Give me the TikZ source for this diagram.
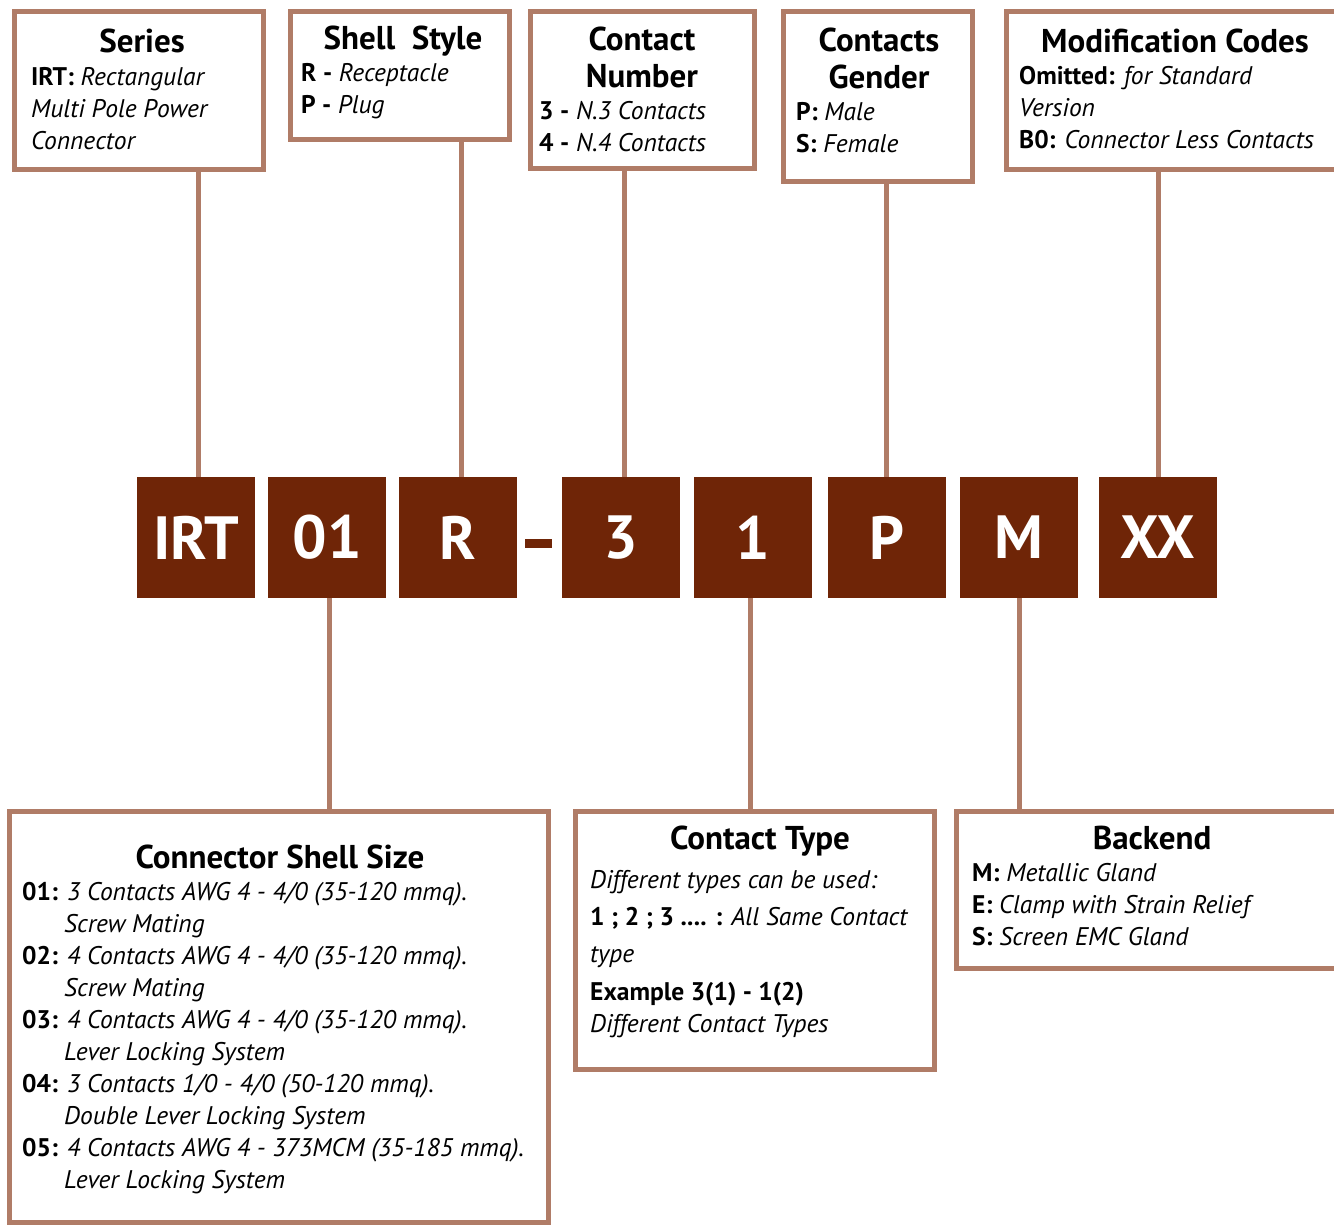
\documentclass[tikz,border=0pt]{standalone}
\usepackage{fontspec}
\setmainfont{PT Sans}
\definecolor{framecol}{RGB}{176,124,103}
\definecolor{codecol}{RGB}{111,37,7}
\begin{document}
\begin{tikzpicture}[x=1pt,y=-1pt,
 frame/.style={draw=framecol, line width=5.5pt, fill=white, inner sep=0pt, outer sep=0pt},
 codebox/.style={fill=codecol, text=white, font=\bfseries\fontsize{61}{61}\selectfont, minimum width=118pt, minimum height=121pt, inner sep=0pt, outer sep=0pt},
 conn/.style={draw=framecol, line width=5pt},
 ttl/.style={font=\bfseries\fontsize{33}{33}\selectfont, anchor=base, inner sep=0pt},
 txt/.style={font=\fontsize{25.5}{25.5}\selectfont, anchor=base west, inner sep=0pt},
]
\useasboundingbox (0,0) rectangle (1334,1226);
% code boxes
\node[codebox] (irt) at (196,537.5) {IRT};
\node[codebox] (c01) at (327,537.5) {01};
\node[codebox] (cr) at (458,537.5) {R};
\node[fill=codecol, minimum width=27pt, minimum height=9.5pt, inner sep=0pt] (dash) at (538.5,543.7) {};
\node[codebox] (c3) at (621,537.5) {3};
\node[codebox] (c1) at (753,537.5) {1};
\node[codebox] (cp) at (887,537.5) {P};
\node[codebox] (cm) at (1019,537.5) {M};
\node[codebox] (cxx) at (1158,537.5) {XX};
% top frames
\node[frame, minimum width=249pt, minimum height=158pt] (series) at (139,90.5) {};
\node[frame, minimum width=219pt, minimum height=128pt] (shell) at (400,75.5) {};
\node[frame, minimum width=224pt, minimum height=157pt] (cnum) at (642.5,90) {};
\node[frame, minimum width=189pt, minimum height=170pt] (gender) at (878,96.5) {};
\node[frame, minimum width=340pt, minimum height=158pt] (mod) at (1176.5,90.5) {};
% bottom frames
\node[frame, minimum width=539pt, minimum height=411pt] (size) at (279,1017) {};
\node[frame, minimum width=359pt, minimum height=258pt] (ctype) at (755,940.5) {};
\node[frame, minimum width=390pt, minimum height=157pt] (backend) at (1151.5,890) {};
% connectors
\draw[conn] ([xshift=2pt]irt.north) -- ([xshift=2pt]irt.north |- series.south);
\draw[conn] ([xshift=3pt]cr.north) -- ([xshift=3pt]cr.north |- shell.south);
\draw[conn] ([xshift=3pt]c3.north) -- ([xshift=3pt]c3.north |- cnum.south);
\draw[conn] ([xshift=-1pt]cp.north) -- ([xshift=-1pt]cp.north |- gender.south);
\draw[conn] (cxx.north) -- (cxx.north |- mod.south);
\draw[conn] ([xshift=2pt]c01.south) -- ([xshift=2pt]c01.south |- size.north);
\draw[conn] ([xshift=-3pt]c1.south) -- ([xshift=-3pt]c1.south |- ctype.north);
\draw[conn] (cm.south) -- (cm.south |- backend.north);
% texts: Series
\node[ttl] (t1) at (142,52) {Series};
\node[txt] (t1a) at (31,85) {\textbf{IRT:} \textit{Rectangular}};
\node[txt] (t1b) at (31,117) {\textit{Multi Pole Power}};
\node[txt] (t1c) at (31,149) {\textit{Connector}};
% Shell style
\node[ttl] (t2) at (403,49) {Shell\ \ Style};
\node[txt] (t2a) at (301,81) {\textbf{R -} \textit{Receptacle}};
\node[txt] (t2b) at (301,113) {\textbf{P -} \textit{Plug}};
% Contact number
\node[ttl] (t3) at (642,50) {Contact};
\node[ttl] (t3b) at (642,87) {Number};
\node[txt] (t3c) at (539,119) {\textbf{3 -} \textit{N.3 Contacts}};
\node[txt] (t3d) at (539,151) {\textbf{4 -} \textit{N.4 Contacts}};
% Gender
\node[ttl] (t4) at (879,51) {Contacts};
\node[ttl] (t4b) at (879,88) {Gender};
\node[txt] (t4c) at (796,120) {\textbf{P:} \textit{Male}};
\node[txt] (t4d) at (796,152) {\textbf{S:} \textit{Female}};
% Modification
\node[ttl] (t5) at (1175,52) {Modification Codes};
\node[txt] (t5a) at (1019,84) {\textbf{Omitted:} \textit{for Standard}};
\node[txt] (t5b) at (1019,116) {\textit{Version}};
\node[txt] (t5c) at (1019,148) {\textbf{B0:} \textit{Connector Less Contacts}};
% Shell size
\node[ttl] (t6) at (280,868) {Connector Shell Size};
\node[txt] (s1) at (22,900) {\textbf{01:} \textit{3 Contacts AWG 4 - 4/0 (35-120 mmq).}};
\node[txt] (s1b) at (64,932) {\textit{Screw Mating}};
\node[txt] (s2) at (22,964) {\textbf{02:} \textit{4 Contacts AWG 4 - 4/0 (35-120 mmq).}};
\node[txt] (s2b) at (64,996) {\textit{Screw Mating}};
\node[txt] (s3) at (22,1028) {\textbf{03:} \textit{4 Contacts AWG 4 - 4/0 (35-120 mmq).}};
\node[txt] (s3b) at (64,1060) {\textit{Lever Locking System}};
\node[txt] (s4) at (22,1092) {\textbf{04:} \textit{3 Contacts 1/0 - 4/0 (50-120 mmq).}};
\node[txt] (s4b) at (64,1124) {\textit{Double Lever Locking System}};
\node[txt] (s5) at (22,1156) {\textbf{05:} \textit{4 Contacts AWG 4 - 373MCM (35-185 mmq).}};
\node[txt] (s5b) at (64,1188) {\textit{Lever Locking System}};
% Contact type
\node[ttl] (t7) at (760,849) {Contact Type};
\node[txt] (k1) at (590,888) {\textit{Different types can be used:}};
\node[txt] (k2) at (590,925) {\textbf{1 ; 2 ; 3 .... :} \textit{All Same Contact}};
\node[txt] (k3) at (590,962) {\textit{type}};
\node[txt] (k4) at (590,1000) {\textbf{Example 3(1) - 1(2)}};
\node[txt] (k5) at (590,1032) {\textit{Different Contact Types}};
% Backend
\node[ttl] (t8) at (1152,849) {Backend};
\node[txt] (b1) at (972,881) {\textbf{M:} \textit{Metallic Gland}};
\node[txt] (b2) at (972,913) {\textbf{E:} \textit{Clamp with Strain Relief}};
\node[txt] (b3) at (972,945) {\textbf{S:} \textit{Screen EMC Gland}};
\end{tikzpicture}
\end{document}
